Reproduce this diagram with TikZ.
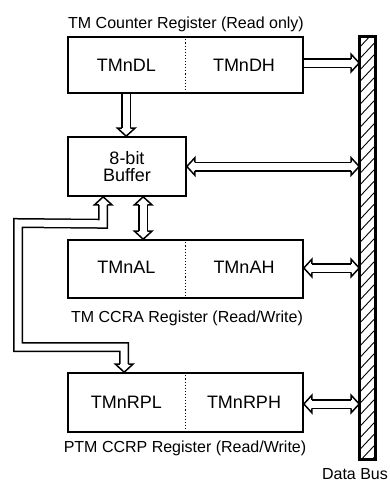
\documentclass[tikz,border=0pt]{standalone}
\usepackage{fontspec}
\setmainfont{Liberation Sans}
\usetikzlibrary{calc}
\newcommand\FatHL{8pt}
\newcommand\FatHW{8.7pt}
\newcommand\FatSW{4.25pt}
\newcommand\fathead[2]{%
  \coordinate (fhb) at ($(#1)!\FatHL!(#2)$);
  \filldraw[fatedge] ($(fhb)!\FatSW!90:(#1)$) -- ($(fhb)!\FatHW!90:(#1)$) -- (#1) -- ($(fhb)!\FatHW!-90:(#1)$) -- ($(fhb)!\FatSW!-90:(#1)$);
}
\begin{document}
\begin{tikzpicture}[x=1pt,y=-1pt,
  reg/.style={draw, line width=1.6pt, minimum width=235pt, inner sep=0pt},
  txt/.style={font=\fontsize{18}{17.5}\selectfont, anchor=base, inner sep=0pt},
  lbl/.style={font=\fontsize{16}{16}\selectfont, anchor=base, inner sep=0pt},
  fatshaft/.style={draw, line width=1.5pt, double=white, double distance=7pt},
  fatedge/.style={draw, fill=white, line width=1.5pt, line join=miter},
  divider/.style={dotted, line width=1.1pt},
  hatch/.style={line width=0.9pt},
]
\useasboundingbox (0,0) rectangle (389,482);

% registers
\node[reg, minimum height=56pt] (cnt) at (185.5,65) {};
\node[reg, minimum width=118pt, minimum height=59pt, align=center,
      font=\fontsize{18}{17.5}\selectfont] (buf) at (127,166.5) {8-bit\\Buffer};
\node[reg, minimum height=58pt] (cca) at (185.5,269) {};
\node[reg, minimum height=59pt] (ccp) at (185.5,402.5) {};

\draw[divider] (cnt.north) -- (cnt.south);
\draw[divider] (cca.north) -- (cca.south);
\draw[divider] (ccp.north) -- (ccp.south);

\node[txt] (dl) at (126.5,71) {TMnDL};
\node[txt] (dh) at (244,71) {TMnDH};
\node[txt] (al) at (126.5,273) {TMnAL};
\node[txt] (ah) at (244,273) {TMnAH};
\node[txt] (rpl) at (126.5,408) {TMnRPL};
\node[txt] (rph) at (244,408) {TMnRPH};

\node[lbl] (lcnt) at (186,28.5) {TM Counter Register (Read only)};
\node[lbl] (lcca) at (187,322) {TM CCRA Register (Read/Write)};
\node[lbl] (lccp) at (185,452) {PTM CCRP Register (Read/Write)};

% data bus
\node[draw, line width=1.6pt, minimum width=15pt, minimum height=422pt, inner sep=0pt] (bus) at (367.5,248) {};
\begin{scope}
  \clip (bus.south west) rectangle (bus.north east);
  \foreach \k in {0,...,38}
    \draw[hatch] ($(bus.north west)+(0,11.5*\k)$) -- ++(15,-16);
\end{scope}
\draw[line width=1.6pt] (bus.south west) rectangle (bus.north east);
\node[lbl] (lbus) at (355,479) {Data Bus};

% arrows
\coordinate (a1s) at ($(cnt.east)+(0,-2)$);
\coordinate (a1e) at (bus.west |- a1s);
\draw[fatshaft, shorten >=\FatHL] (a1s) -- (a1e);
\fathead{a1e}{a1s}

\coordinate (a2s) at ($(cnt.south west)+(59,0)$);
\coordinate (a2e) at (a2s |- buf.north);
\draw[fatshaft, shorten >=\FatHL] (a2s) -- (a2e);
\fathead{a2e}{a2s}

\coordinate (a3s) at (buf.east);
\coordinate (a3e) at (bus.west |- a3s);
\draw[fatshaft, shorten >=\FatHL, shorten <=\FatHL] (a3s) -- (a3e);
\fathead{a3e}{a3s}
\fathead{a3s}{a3e}

\coordinate (a4s) at ($(buf.south west)+(76,0)$);
\coordinate (a4e) at (a4s |- cca.north);
\draw[fatshaft, shorten >=\FatHL, shorten <=\FatHL] (a4s) -- (a4e);
\fathead{a4e}{a4s}
\fathead{a4s}{a4e}

\coordinate (a5s) at ($(cca.east)+(0,-1)$);
\coordinate (a5e) at (bus.west |- a5s);
\draw[fatshaft, shorten >=\FatHL, shorten <=\FatHL] (a5s) -- (a5e);
\fathead{a5e}{a5s}
\fathead{a5s}{a5e}

\coordinate (a6s) at ($(ccp.east)+(0,1.5)$);
\coordinate (a6e) at (bus.west |- a6s);
\draw[fatshaft, shorten >=\FatHL, shorten <=\FatHL] (a6s) -- (a6e);
\fathead{a6e}{a6s}
\fathead{a6s}{a6e}

% loop between buffer and CCRP register
\coordinate (a7s) at ($(buf.south west)+(36,0)$);
\coordinate (a7e) at ($(ccp.north west)+(57,0)$);
\coordinate (a7c1) at ($(a7s)+(0,27)$);
\coordinate (a7c2) at (18,223);
\coordinate (a7c3) at ($(a7e)+(0,-25)$);
\draw[fatshaft, shorten >=\FatHL, shorten <=\FatHL] (a7s) -- (a7c1) -- (a7c2) |- (a7c3) -- (a7e);
\fathead{a7s}{a7c1}
\fathead{a7e}{a7c3}
\end{tikzpicture}
\end{document}
